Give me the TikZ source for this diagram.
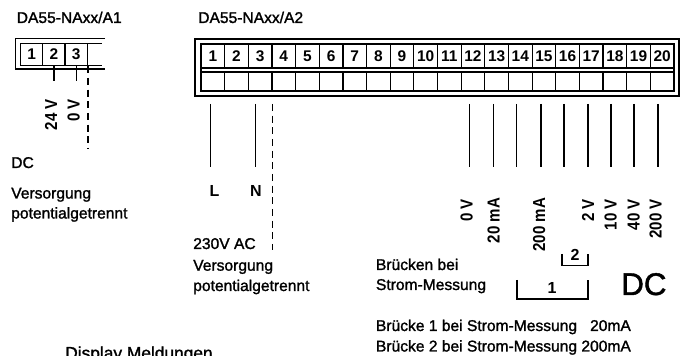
\documentclass[tikz,border=0pt]{standalone}
\usepackage{fontspec}
\setmainfont{Liberation Sans}
\newfontfamily\labelfont[FakeBold=1.4]{Liberation Sans}
\newfontfamily\voltfont[FakeStretch=0.87]{Liberation Sans}
\begin{document}
\begin{tikzpicture}[
	x=0.75pt, y=-0.75pt,
	frame/.style={draw, line width=1pt},
	cell/.style={rectangle, draw, line width=0.9pt, inner sep=0pt, font=\fontsize{11.6pt}{13pt}\bfseries},
	wire/.style={draw, line width=0.9pt},
	sep/.style={wire, line width=1.1pt, dash pattern=on 5.25pt off 3.5pt},
	txt/.style={inner sep=0pt, anchor=base west, font=\fontsize{11.7pt}{13pt}\labelfont},
	volt/.style={inner sep=0pt, rotate=90, anchor=mid east, font=\fontsize{13pt}{14pt}\voltfont\bfseries},
	pin/.style={inner sep=0pt, font=\fontsize{12pt}{13pt}\bfseries}
]
\clip (0,0) rectangle (683,356);
\path[fill=white] (0,0) rectangle (683,356);

% A1
\node[txt] (titleA) at (16.5,23) {DA55-NAxx/A1};
\draw[frame] (105,38.7) -| (15.7,69) -- (105,69);
\draw[frame] (101.7,43.3) -| (20.7,65.7) -- (101.7,65.7);
\foreach \n/\xa/\cellw in {1/31.7/16.5, 2/53.9/16.8, 3/76.2/16.7}
	\node[cell, minimum width=\cellw pt, minimum height=16.8pt] (a\n) at (\xa,54.5) {\n};
\coordinate (w2) at (a2.south |- 0,81);
\coordinate (w3) at (a3.south |- 0,81);
\coordinate (w4) at (a3.south east |- 0,149);
\draw[wire] (a2.south) -- (w2);
\draw[wire] (a3.south) -- (w3);
\draw[sep] (a3.south east) -- (w4);
\node[volt] (v24) at (53.5,99) {24 V};
\node[volt] (v0) at (76,99) {0 V};
\node[txt] (dcA) at (11,168) {DC};
\node[txt] (supA) at (11,198.5) {Versorgung};
\node[txt] (isoA) at (11,218.5) {potentialgetrennt};

% A2
\node[txt] (titleB) at (198,23) {DA55-NAxx/A2};
\draw[frame] (195,39) rectangle (679,96);
\draw[frame] (201,44) rectangle (674,91);
\foreach \n in {1,...,20} {
	\node[cell, minimum width=17.74pt, minimum height=18pt] (t\n) at ({201+23.65*(\n-0.5)},56) {\n};
	\node[cell, minimum width=17.74pt, minimum height=14.25pt] (b\n) at ({201+23.65*(\n-0.5)},81.5) {};
}

\foreach \name/\xa in {l/210.7, n/255.7, m12/469.3, m13/493.3, m14/516.7, m15/541, m16/564, m17/588, m18/611, m19/634, m20/658} {
	\coordinate (s\name) at (\xa,104);
	\coordinate (e\name) at (\xa,167);
	\draw[wire] (s\name) -- (e\name);
}
\coordinate (sPe) at (272.3,104);
\coordinate (ePe) at (272.3,250);
\draw[sep] (sPe) -- (ePe);

\node[pin] (lab1) at (214.6,191) {L};
\node[pin] (lab2) at (256,191) {N};
\node[txt] (acB) at (193,249) {230V AC};
\node[txt] (supB) at (193,270.7) {Versorgung};
\node[txt] (isoB) at (193,291) {potentialgetrennt};

\node[volt] (r0) at (469,199) {0 V};
\node[volt] (r20m) at (496,197.7) {20 mA};
\node[volt] (r200m) at (541.7,197.7) {200 mA};
\node[volt] (r2) at (590.7,199) {2 V};
\node[volt] (r10) at (613,199) {10 V};
\node[volt] (r40) at (636,199) {40 V};
\node[volt] (r200) at (658,199) {200 V};

% Bruecken
\node[txt] (bruA) at (375.7,270) {Brücken bei};
\node[txt] (bruB) at (375.7,290) {Strom-Messung};
\coordinate (k2a) at (562,254);
\coordinate (k2b) at (588,254);
\coordinate (k1a) at (517,280);
\coordinate (k1b) at (588,280);
\draw[wire] (k2a) -- ++(0,11.5) -| (k2b);
\draw[wire] (k1a) -- ++(0,19) -| (k1b);
\node[pin] (n2) at (575,255) {2};
\node[pin] (n1) at (552,288) {1};
\node[inner sep=0pt, anchor=base west, font=\fontsize{23.5pt}{26pt}\labelfont] (dcB) at (621,295) {DC};

\node[txt] (noteA) at (375.7,331) {Brücke 1 bei Strom-Messung\ \ \ 20mA};
\node[txt] (noteB) at (375.7,351.5) {Brücke 2 bei Strom-Messung 200mA};
\node[inner sep=0pt, anchor=base west, font=\fontsize{13pt}{15pt}\labelfont] (disp) at (65,359) {Display Meldungen};
\end{tikzpicture}
\end{document}
